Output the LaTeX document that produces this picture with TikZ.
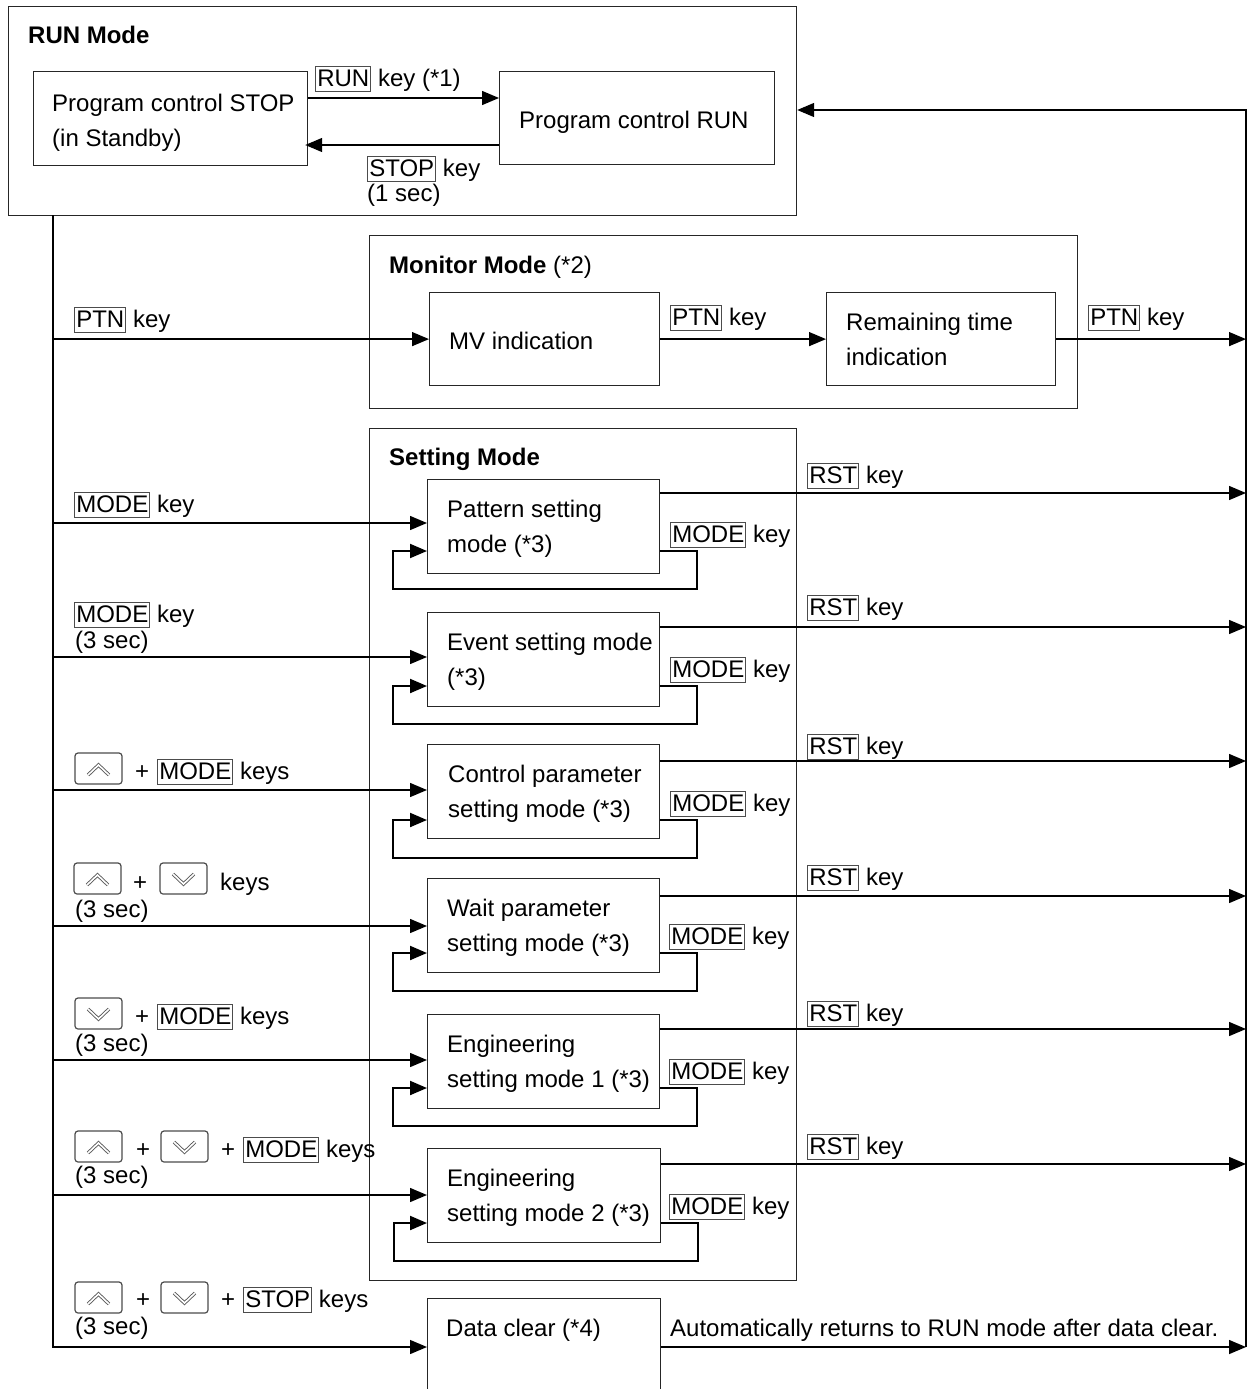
\documentclass[tikz,border=0pt]{standalone}
\usepackage{fontspec}
\setmainfont{Liberation Sans}
\usetikzlibrary{arrows.meta,calc}
\definecolor{keyg}{gray}{0.3}
\newcommand\kf[1]{{\setlength\fboxsep{1pt}\setlength\fboxrule{1.1pt}\fcolorbox{keyg}{white}{\rule[-4pt]{0pt}{22pt}#1}}}
\begin{document}
\begin{tikzpicture}[x=1pt,y=-1pt,
  bx/.style={draw=black!85, line width=1.2pt, inner sep=0pt, anchor=north west},
  txt/.style={inner sep=0pt, anchor=base west, font=\fontsize{24}{35}\selectfont},
  conn/.style={line width=1.4pt},
  arr/.style={conn, -{Triangle[length=17pt,width=14pt]}},
  lp/.style={line width=2pt, -{Triangle[length=17pt,width=14pt]}},
  keyframe/.style={draw=keyg, line width=1.2pt, rounded corners=3pt},
  chev/.style={draw=black!65, double=white, line width=0.9pt, double distance=1.6pt},
  upk/.pic={\draw[keyframe] (0,0) rectangle (47,31); \draw[chev] (13,22) -- (23.5,12) -- (34,22);},
  dnk/.pic={\draw[keyframe] (0,0) rectangle (47,31); \draw[chev] (13,11) -- (23.5,21) -- (34,11);}
]
\useasboundingbox (0,0) rectangle (1247,1389);

% ---------- boxes ----------
\node[bx, minimum width=788, minimum height=209] (runmode) at (8,6) {};
\node[bx, minimum width=274, minimum height=94] (stopb) at (33,71) {};
\node[bx, minimum width=275, minimum height=93] (runb) at (499,71) {};
\node[bx, minimum width=708, minimum height=173] (mon) at (369,235) {};
\node[bx, minimum width=230, minimum height=93] (mvb) at (429,292) {};
\node[bx, minimum width=229, minimum height=93] (remb) at (826,292) {};
\node[bx, minimum width=427, minimum height=852] (setm) at (369,428) {};
\node[bx, minimum width=232, minimum height=94] (s1) at (427,479) {};
\node[bx, minimum width=232, minimum height=94] (s2) at (427,612) {};
\node[bx, minimum width=232, minimum height=94] (s3) at (427,744) {};
\node[bx, minimum width=232, minimum height=94] (s4) at (427,878) {};
\node[bx, minimum width=232, minimum height=94] (s5) at (427,1014) {};
\node[bx, minimum width=233, minimum height=94] (s6) at (427,1148) {};
\node[bx, minimum width=233, minimum height=130] (dc) at (427,1298) {};

% ---------- box texts ----------
\node[txt] (t0) at (28,44) {\bfseries RUN Mode};
\node[txt] (t1) at (52,111) {Program control STOP};
\node[txt] (t2) at (52,146) {(in Standby)};
\node[txt] (t3) at (519,128) {Program control RUN};
\node[txt] (t4) at (389,273) {\textbf{Monitor Mode} (*2)};
\node[txt] (t5) at (449,349) {MV indication};
\node[txt] (t6) at (846,330) {Remaining time};
\node[txt] (t7) at (846,365) {indication};
\node[txt] (t8) at (389,465) {\bfseries Setting Mode};
\node[txt] (a1) at (447,517) {Pattern setting};
\node[txt] (a2) at (447,552) {mode (*3)};
\node[txt] (b1) at (447,650) {Event setting mode};
\node[txt] (b2) at (447,685) {(*3)};
\node[txt] (c1) at (448,782) {Control parameter};
\node[txt] (c2) at (448,817) {setting mode (*3)};
\node[txt] (d1) at (447,916) {Wait parameter};
\node[txt] (d2) at (447,951) {setting mode (*3)};
\node[txt] (e1) at (447,1052) {Engineering};
\node[txt] (e2) at (447,1087) {setting mode 1 (*3)};
\node[txt] (f1) at (447,1186) {Engineering};
\node[txt] (f2) at (447,1221) {setting mode 2 (*3)};
\node[txt] (g1) at (446,1336) {Data clear (*4)};

% ---------- trunks ----------
\coordinate (Ltop) at (53,215);
\coordinate (Lbot) at (53,1347);
\coordinate (Rtop) at (1246,110);
\coordinate (Rbot) at (1246,1347);
\draw[arr] (Ltop) -- (Lbot) -- (dc.west |- Lbot);
\draw[arr] (Rbot) -- (Rtop) -- (runmode.east |- Rtop);

% ---------- RUN mode arrows ----------
\coordinate (ry1) at (0,98);
\coordinate (ry2) at (0,145);
\draw[arr] (stopb.east |- ry1) -- (runb.west |- ry1);
\draw[arr] (runb.west |- ry2) -- ([xshift=-3pt]stopb.east |- ry2);
\node[txt] (k1) at (315,86) {\kf{RUN} key (*1)};
\node[txt] (k2) at (367,176) {\kf{STOP} key};
\node[txt] (k3) at (367,201) {(1 sec)};

% ---------- monitor arrows ----------
\draw[arr] (Ltop |- mvb.west) -- (mvb.west);
\draw[arr] (mvb.east) -- (remb.west);
\draw[arr] (remb.east) -- (Rtop |- remb.east);
\node[txt] (p1) at (74,327) {\kf{PTN} key};
\node[txt] (p2) at (670,325) {\kf{PTN} key};
\node[txt] (p3) at (1088,325) {\kf{PTN} key};

% ---------- setting boxes connectors ----------
\path ($(s1.north west)+(0,44)$) coordinate (s1in) ($(s1.north west)+(0,72)$) coordinate (s1lp) ($(s1.north east)+(0,14)$) coordinate (s1r);
\path ($(s2.north west)+(0,45)$) coordinate (s2in) ($(s2.north west)+(0,74)$) coordinate (s2lp) ($(s2.north east)+(0,15)$) coordinate (s2r);
\path ($(s3.north west)+(0,46)$) coordinate (s3in) ($(s3.north west)+(0,76)$) coordinate (s3lp) ($(s3.north east)+(0,17)$) coordinate (s3r);
\path ($(s4.north west)+(0,48)$) coordinate (s4in) ($(s4.north west)+(0,75)$) coordinate (s4lp) ($(s4.north east)+(0,18)$) coordinate (s4r);
\path ($(s5.north west)+(0,46)$) coordinate (s5in) ($(s5.north west)+(0,74)$) coordinate (s5lp) ($(s5.north east)+(0,15)$) coordinate (s5r);
\path ($(s6.north west)+(0,47)$) coordinate (s6in) ($(s6.north west)+(0,75)$) coordinate (s6lp) ($(s6.north east)+(0,16)$) coordinate (s6r);

\foreach \s in {s1,s2,s3,s4,s5,s6}{
  \draw[arr] (Ltop |- \s in) -- (\s in);
  \draw[lp] (\s.east |- \s lp) -- ++(37,0) -- ++(0,38) -- ++(-304,0) -- ++(0,-38) -- (\s lp);
  \draw[arr] (\s r) -- (Rtop |- \s r);
}
\draw[arr] (dc.east |- Lbot) -- (Rbot);

% ---------- right-side labels ----------
\node[txt] (r1) at (807,483) {\kf{RST} key};
\node[txt] (r2) at (807,615) {\kf{RST} key};
\node[txt] (r3) at (807,754) {\kf{RST} key};
\node[txt] (r4) at (807,885) {\kf{RST} key};
\node[txt] (r5) at (807,1021) {\kf{RST} key};
\node[txt] (r6) at (807,1154) {\kf{RST} key};
\node[txt] (m1) at (670,542) {\kf{MODE} key};
\node[txt] (m2) at (670,677) {\kf{MODE} key};
\node[txt] (m3) at (670,811) {\kf{MODE} key};
\node[txt] (m4) at (669,944) {\kf{MODE} key};
\node[txt] (m5) at (669,1079) {\kf{MODE} key};
\node[txt] (m6) at (669,1214) {\kf{MODE} key};
\node[txt] (g2) at (670,1336) {Automatically returns to RUN mode after data clear.};

% ---------- left labels ----------
\node[txt] (l2) at (74,512) {\kf{MODE} key};
\node[txt] (l3) at (74,622) {\kf{MODE} key};
\node[txt] (l3b) at (75,648) {(3 sec)};

\pic at (75,753) {upk};
\node[txt] (l4p) at (135,779) {+};
\node[txt] (l4) at (157,779) {\kf{MODE} keys};

\pic at (74,863) {upk};
\node[txt] (l5p) at (133,890) {+};
\pic at (160,863) {dnk};
\node[txt] (l5) at (220,890) {keys};
\node[txt] (l5b) at (75,917) {(3 sec)};

\pic at (75,998) {dnk};
\node[txt] (l6p) at (135,1024) {+};
\node[txt] (l6) at (157,1024) {\kf{MODE} keys};
\node[txt] (l6b) at (75,1051) {(3 sec)};

\pic at (75,1131) {upk};
\node[txt] (l7p) at (136,1157) {+};
\pic at (161,1131) {dnk};
\node[txt] (l7q) at (221,1157) {+};
\node[txt] (l7) at (243,1157) {\kf{MODE} keys};
\node[txt] (l7b) at (75,1183) {(3 sec)};

\pic at (75,1282) {upk};
\node[txt] (l8p) at (136,1307) {+};
\pic at (161,1282) {dnk};
\node[txt] (l8q) at (221,1307) {+};
\node[txt] (l8) at (243,1307) {\kf{STOP} keys};
\node[txt] (l8b) at (75,1334) {(3 sec)};
\end{tikzpicture}
\end{document}
